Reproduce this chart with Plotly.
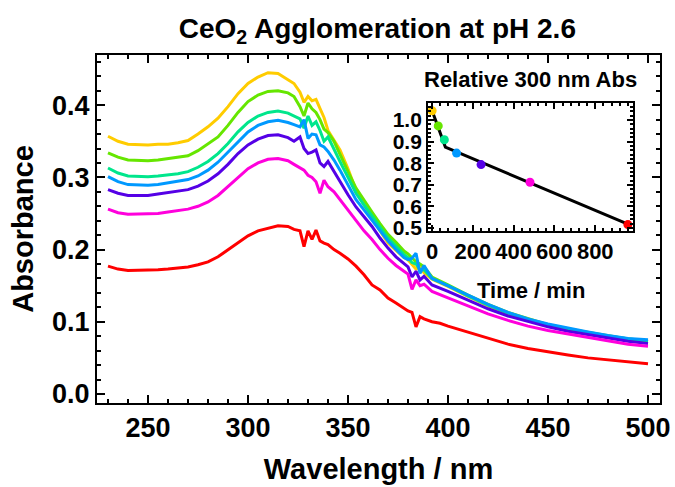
import plotly.graph_objects as go

# ---------------- data ----------------
wavelength = [230, 235, 240, 245, 250, 255, 260, 265, 270, 275, 280, 285, 290, 295, 300,
              305, 310, 315, 320, 323, 326, 328, 330, 332, 334, 336, 338, 340, 343, 346,
              350, 354, 358, 362, 366, 370, 374, 378, 380, 382, 384, 386, 388, 392, 396,
              400, 410, 420, 430, 440, 450, 460, 470, 480, 490, 500]

abs_0min = [.357, .350, .346, .345, .345, .346, .346, .348, .351, .360, .370, .382, .398, .416, .430,
            .439, .445, .444, .436, .430, .418, .404, .412, .406, .408, .395, .383, .365, .352, .338,
            .312, .282, .262, .245, .226, .209, .199, .189, .186, .180, .173, .176, .168, .159, .154,
            .149, .135, .122, .111, .102, .095, .089, .084, .079, .075, .072]
abs_30min = [.334, .328, .324, .323, .323, .324, .326, .327, .330, .337, .346, .356, .372, .390, .405,
             .414, .419, .420, .417, .412, .398, .385, .403, .395, .390, .380, .367, .362, .350, .331,
             .308, .285, .268, .252, .236, .221, .210, .198, .194, .188, .183, .180, .176, .162, .156,
             .151, .137, .124, .113, .104, .096, .090, .085, .080, .076, .073]
abs_60min = [.313, .306, .302, .301, .301, .302, .303, .305, .308, .314, .322, .333, .347, .363, .376,
             .385, .390, .392, .389, .385, .381, .368, .385, .372, .377, .365, .350, .356, .338, .322,
             .300, .278, .262, .246, .231, .216, .204, .193, .189, .182, .180, .172, .172, .160, .155,
             .150, .136, .123, .112, .103, .096, .090, .085, .080, .076, .073]
abs_120min = [.301, .294, .290, .289, .289, .290, .292, .294, .297, .302, .310, .321, .335, .350, .363,
              .372, .377, .379, .376, .373, .370, .380, .354, .360, .359, .345, .342, .336, .324, .310,
              .290, .269, .255, .241, .226, .212, .200, .189, .186, .188, .195, .167, .178, .160, .155,
              .150, .137, .124, .113, .104, .097, .091, .086, .081, .077, .075]
abs_240min = [.283, .278, .275, .275, .275, .277, .279, .280, .283, .288, .295, .305, .318, .333, .345,
              .353, .358, .359, .355, .350, .356, .340, .333, .335, .338, .320, .315, .322, .308, .296,
              .276, .259, .245, .232, .216, .202, .190, .181, .176, .162, .170, .158, .163, .151, .146,
              .142, .130, .118, .108, .100, .093, .087, .082, .077, .073, .070]
abs_480min = [.256, .251, .249, .249, .249, .250, .252, .254, .256, .260, .266, .275, .287, .300, .312,
              .320, .325, .326, .323, .318, .313, .310, .303, .300, .294, .278, .296, .287, .280, .269,
              .255, .241, .226, .214, .200, .188, .178, .170, .166, .145, .158, .150, .152, .142, .137,
              .133, .122, .111, .102, .094, .088, .083, .078, .073, .069, .066]
abs_960min = [.177, .173, .171, .171, .171, .172, .173, .174, .176, .179, .183, .190, .200, .210, .219,
              .226, .230, .233, .232, .228, .226, .204, .226, .214, .227, .212, .209, .207, .200, .195,
              .187, .177, .165, .151, .144, .133, .126, .119, .115, .113, .093, .107, .104, .100, .098,
              .094, .086, .077, .069, .063, .058, .054, .050, .047, .044, .042]

spectra = [abs_0min, abs_30min, abs_60min, abs_120min, abs_240min, abs_480min, abs_960min]
colors = ["#FFCC00", "#66E600", "#00E68C", "#0099FF", "#5500E6", "#FF00DC", "#FF0000"]

# inset: relative absorbance at 300 nm vs time
time_min = [0, 30, 60, 120, 240, 480, 960]
rel_abs = [1.043, 0.973, 0.909, 0.847, 0.794, 0.712, 0.516]
fit_time = [0, 65, 960]
fit_rel = [1.043, 0.875, 0.518]

x_ticks = [250, 300, 350, 400, 450, 500]
y_ticks = [0.0, 0.1, 0.2, 0.3, 0.4]
inset_x_ticks = [0, 200, 400, 600, 800]
inset_y_ticks = [0.5, 0.6, 0.7, 0.8, 0.9, 1.0]

# ---------------- figure ----------------
FONT = "Liberation Sans"
fig = go.Figure()

for ys, c in zip(spectra, colors):
    fig.add_trace(go.Scatter(x=wavelength, y=ys, mode="lines",
                             line=dict(color=c, width=3), showlegend=False,
                             xaxis="x", yaxis="y"))

fig.add_trace(go.Scatter(x=fit_time, y=fit_rel, mode="lines",
                         line=dict(color="black", width=3), showlegend=False,
                         xaxis="x2", yaxis="y2"))
fig.add_trace(go.Scatter(x=time_min, y=rel_abs, mode="markers",
                         marker=dict(color=colors, size=9), showlegend=False,
                         xaxis="x2", yaxis="y2"))

axis_common = dict(showgrid=False, zeroline=False, showline=True, linecolor="black",
                   linewidth=2, mirror="allticks", ticks="inside", tickcolor="black",
                   automargin=False)

fig.update_layout(
    width=675, height=487,
    margin=dict(l=97, r=15, t=55, b=84, autoexpand=False),
    plot_bgcolor="white", paper_bgcolor="white",
    font=dict(family=FONT, color="black"),
    title=dict(text="CeO<sub>2</sub> Agglomeration at pH 2.6",
               font=dict(family=FONT, size=28, weight="bold", color="black"),
               x=0.559, xanchor="center", y=0.942, yanchor="middle"),
    xaxis=dict(**axis_common, range=[224.5, 506], tickvals=x_ticks,
               ticktext=[str(v) for v in x_ticks], ticklen=8, tickwidth=2,
               tickfont=dict(family=FONT, size=27, weight="bold"),
               minor=dict(dtick=10, tick0=250, ticks="inside", ticklen=4,
                          tickwidth=1.5, tickcolor="black"),
               title=dict(text="Wavelength / nm", standoff=16,
                          font=dict(family=FONT, size=29, weight="bold"))),
    yaxis=dict(**axis_common, range=[-0.0125, 0.4695], tickvals=y_ticks,
               ticktext=["%.1f" % v for v in y_ticks], ticklen=8, tickwidth=2,
               tickfont=dict(family=FONT, size=27, weight="bold"),
               minor=dict(dtick=0.02, tick0=0, ticks="inside", ticklen=4,
                          tickwidth=1.5, tickcolor="black"),
               title=dict(text="Absorbance", standoff=10,
                          font=dict(family=FONT, size=29, weight="bold"))),
    xaxis2=dict(**axis_common, domain=[0.588, 0.952], anchor="y2", range=[-20, 985],
                tickvals=inset_x_ticks, ticktext=[str(v) for v in inset_x_ticks],
                ticklen=6, tickwidth=2,
                tickfont=dict(family=FONT, size=22, weight="bold"),
                minor=dict(dtick=40, tick0=0, ticks="inside", ticklen=3,
                           tickwidth=1.5, tickcolor="black")),
    yaxis2=dict(**axis_common, domain=[0.494, 0.862], anchor="x2", range=[0.486, 1.079],
                tickvals=inset_y_ticks, ticktext=["%.1f" % v for v in inset_y_ticks],
                ticklen=6, tickwidth=2,
                tickfont=dict(family=FONT, size=21, weight="bold"),
                minor=dict(dtick=0.02, tick0=0.5, ticks="inside", ticklen=3,
                           tickwidth=1.5, tickcolor="black")),
    annotations=[
        dict(text="Relative 300 nm Abs", xref="paper", yref="paper",
             x=(530 - 97) / 563.0, y=(403 - 79) / 348.0, xanchor="center", yanchor="middle",
             showarrow=False, font=dict(family=FONT, size=22, weight="bold", color="black")),
        dict(text="Time / min", xref="paper", yref="paper",
             x=(531 - 97) / 563.0, y=(403 - 290) / 348.0, xanchor="center", yanchor="middle",
             showarrow=False, font=dict(family=FONT, size=22, weight="bold", color="black")),
    ],
)

fig.write_html("out.html")
